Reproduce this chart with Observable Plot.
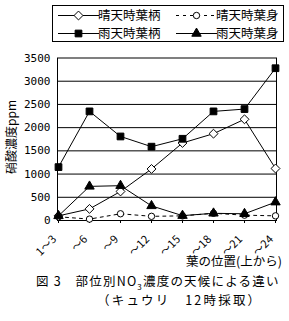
<!DOCTYPE html>
<html><head><meta charset="utf-8">
<script src="https://cdn.jsdelivr.net/npm/d3@7"></script>
<script src="https://cdn.jsdelivr.net/npm/@observablehq/plot@0.6"></script>
<style>
body{margin:0;background:#fff;}
#wrap{position:relative;width:289px;height:321px;overflow:hidden;font-family:"Noto Sans CJK JP",sans-serif;color:#000;background:#fff;}
#chart{position:absolute;left:0;top:0;}
.abs{position:absolute;white-space:nowrap;line-height:1;}
#legend{position:absolute;left:52px;top:5px;width:230px;height:35px;border:1px solid #000;background:#fff;}
#legend .lab{position:absolute;font-size:12.5px;line-height:1;white-space:nowrap;}
</style></head><body>
<div id="wrap">
<div id="chart"></div>
<div id="legend"></div>
<div class="abs" id="ylab" style="left:5px;top:174px;font-size:12px;transform-origin:0 0;transform:rotate(-90deg);">硝酸濃度ppm</div>
<div class="abs" style="right:7px;top:255px;font-size:12.5px;">葉の位置(上から)</div>
<div class="abs" style="left:36px;top:275px;font-size:12.5px;letter-spacing:1.2px;">図 3　部位別NO<sub style="font-size:8px;">3</sub>濃度の天候による違い</div>
<div class="abs" style="left:97px;top:294px;font-size:12.5px;letter-spacing:2.2px;">（キュウリ　12時採取）</div>
</div>
<script>
const categories = ["1～3", "～6", "～9", "～12", "～15", "～18", "～21", "～24"];
const sunnyPetiole = [100, 250, 625, 1110, 1670, 1870, 2180, 1120];
const sunnyBlade = [80, 30, 145, 90, 100, 155, 115, 100];
const rainyPetiole = [1150, 2350, 1810, 1590, 1760, 2350, 2400, 3280];
const rainyBlade = [100, 735, 750, 315, 105, 155, 145, 395];
const seriesNames = ["晴天時葉柄", "晴天時葉身", "雨天時葉柄", "雨天時葉身"];
const yTicks = [0, 500, 1000, 1500, 2000, 2500, 3000, 3500];

const series = [
  {name: seriesNames[1], values: sunnyBlade, symbol: "circle", fill: "white", r: 3.2, dash: "3,4"},
  {name: seriesNames[0], values: sunnyPetiole, symbol: "diamond2", fill: "white", r: 4.0, dash: null},
  {name: seriesNames[2], values: rainyPetiole, symbol: "square", fill: "black", r: 3.8, dash: null},
  {name: seriesNames[3], values: rainyBlade, symbol: "triangle", fill: "black", r: 3.5, dash: null}
];

const marks = [
  Plot.ruleY(yTicks.slice(1, -1), {stroke: "black", strokeWidth: 1}),
  Plot.frame({stroke: "black"}),
  Plot.axisY({ticks: yTicks, tickSize: 0, tickPadding: 7, label: null, fontSize: 11, fontFamily: "DejaVu Sans Mono", tickFormat: d => String(d)}),
  Plot.axisX({tickSize: 3, tickFormat: () => "", label: null}),
  Plot.text(categories, {x: d => d, frameAnchor: "bottom", rotate: -45, textAnchor: "end", lineAnchor: "middle", dx: -4, dy: 17, fontSize: 11, fontFamily: "Noto Sans CJK JP"})
];
for (const s of series) {
  const data = categories.map((c, i) => ({c, v: s.values[i]}));
  marks.push(Plot.line(data, {x: "c", y: "v", stroke: "black", strokeWidth: 1, strokeDasharray: s.dash}));
}
for (const s of series) {
  const data = categories.map((c, i) => ({c, v: s.values[i]}));
  marks.push(Plot.dot(data, {x: "c", y: "v", symbol: () => s.symbol, r: s.r, fill: s.fill, stroke: "black", strokeWidth: 1}));
}

const chart = Plot.plot({
  width: 289,
  height: 321,
  marginLeft: 57,
  marginRight: 13,
  marginTop: 57.5,
  marginBottom: 101,
  style: {fontFamily: "DejaVu Sans Mono", fontSize: "11px", color: "black", background: "transparent"},
  x: {type: "point", domain: categories, padding: 0, axis: null},
  y: {domain: [0, 3500], axis: null},
  symbol: {type: "identity"},
  marks
});
document.getElementById("chart").appendChild(chart);

// legend
const symTypes = {circle: d3.symbolCircle, diamond2: d3.symbolDiamond2, square: d3.symbolSquare, triangle: d3.symbolTriangle};
const legendOrder = [series[1], series[0], series[2], series[3]];
const leg = document.getElementById("legend");
legendOrder.forEach((s, i) => {
  const col = i % 2, row = Math.floor(i / 2);
  const x0 = col === 0 ? 5 : 123;
  const cy = row === 0 ? 9 : 27;
  const ns = "http://www.w3.org/2000/svg";
  const svg = document.createElementNS(ns, "svg");
  svg.setAttribute("width", 42); svg.setAttribute("height", 12);
  svg.style.position = "absolute"; svg.style.left = x0 + "px"; svg.style.top = (cy - 6) + "px";
  const ln = document.createElementNS(ns, "line");
  ln.setAttribute("x1", 0); ln.setAttribute("x2", 41); ln.setAttribute("y1", 6.5); ln.setAttribute("y2", 6.5);
  ln.setAttribute("stroke", "black"); if (s.dash) ln.setAttribute("stroke-dasharray", s.dash);
  svg.appendChild(ln);
  const p = document.createElementNS(ns, "path");
  p.setAttribute("d", d3.symbol(symTypes[s.symbol], s.r * s.r * Math.PI)());
  p.setAttribute("transform", "translate(20.5,6.5)");
  p.setAttribute("fill", s.fill); p.setAttribute("stroke", "black");
  svg.appendChild(p);
  leg.appendChild(svg);
  const t = document.createElement("div");
  t.className = "lab"; t.textContent = s.name;
  t.style.left = (x0 + 40) + "px"; t.style.top = (cy - 6.5) + "px";
  leg.appendChild(t);
});
</script>
</body></html>
